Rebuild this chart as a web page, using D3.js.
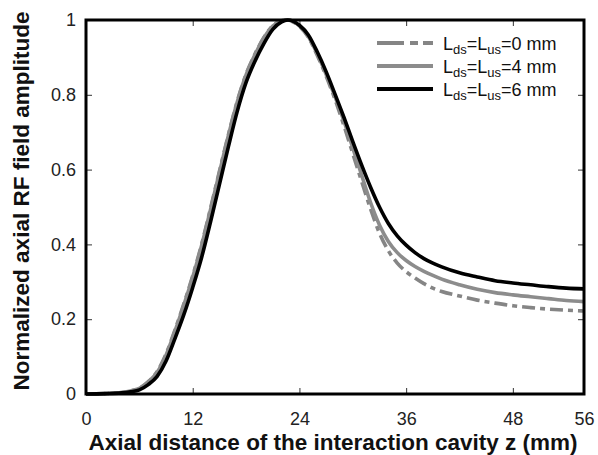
<!DOCTYPE html>
<html><head><meta charset="utf-8">
<script src="https://cdn.jsdelivr.net/npm/d3@7"></script>
<style>body{margin:0;background:#fff}svg{display:block}text{font-family:"Liberation Sans",Arial,sans-serif}</style>
</head><body><svg id="c" width="598" height="455"></svg>
<script>
const z6 = [0,2,4,5,6,7,8,9,10,11,12,13,14,15,16,17,18,19,20,21,22,22.7,24,25,26,27,28,29,30,31,32,33,34,35,36,37,38,39,40,42,44,46,48,50,52,54,56];
const v6 = [0,0.001,0.003,0.006,0.011,0.025,0.047,0.088,0.148,0.212,0.285,0.365,0.46,0.56,0.66,0.755,0.833,0.89,0.937,0.975,0.995,1,0.986,0.96,0.915,0.862,0.802,0.74,0.675,0.612,0.553,0.5,0.456,0.423,0.398,0.378,0.362,0.35,0.34,0.324,0.313,0.303,0.297,0.292,0.287,0.283,0.281];
const z4 = [0,2,4,5,6,7,8,9,10,11,12,13,14,15,16,17,18,19,20,21,22,22.5,24,25,26,27,28,29,30,31,32,33,34,35,36,37,38,39,40,42,44,46,48,50,52,54,56];
const v4 = [0,0.001,0.004,0.008,0.015,0.032,0.058,0.104,0.168,0.238,0.313,0.397,0.493,0.592,0.69,0.78,0.853,0.907,0.952,0.984,0.998,1,0.984,0.956,0.91,0.855,0.795,0.73,0.658,0.585,0.512,0.452,0.408,0.378,0.357,0.341,0.328,0.317,0.307,0.292,0.28,0.271,0.265,0.26,0.255,0.25,0.247];
const z0 = [0,2,4,5,6,7,8,9,10,11,12,13,14,15,16,17,18,19,20,21,22,22.5,24,25,26,27,28,29,30,31,32,33,34,35,36,37,38,39,40,42,44,46,48,50,52,54,56];
const v0 = [0,0.001,0.004,0.008,0.015,0.033,0.06,0.107,0.171,0.241,0.316,0.4,0.496,0.595,0.692,0.782,0.855,0.909,0.953,0.985,0.998,1,0.983,0.954,0.906,0.85,0.788,0.718,0.643,0.568,0.495,0.43,0.383,0.35,0.327,0.31,0.295,0.283,0.274,0.262,0.251,0.243,0.236,0.231,0.227,0.224,0.222];
const xTicks = [0,12,24,36,48,56];
const yTicks = [0,0.2,0.4,0.6,0.8,1];
const seriesNames = ["0","4","6"];

const svg = d3.select("#c");
const m = {l:86, t:20, r:14, b:61};
const W = 598 - m.l - m.r, H = 455 - m.t - m.b;
const x = d3.scaleLinear().domain([0,56]).range([0,W]);
const y = d3.scaleLinear().domain([0,1]).range([H,0]);
const g = svg.append("g").attr("transform",`translate(${m.l},${m.t})`);

const line = d3.line().x(d=>x(d[0])).y(d=>y(d[1])).curve(d3.curveMonotoneX);
const series = [
  {z:z0, v:v0, color:"#858585", dash:"13,5,5,5", w:3.6},
  {z:z4, v:v4, color:"#8c8c8c", dash:null, w:3.6},
  {z:z6, v:v6, color:"#000", dash:null, w:3.6}
];

const fmtY = d=> d===0?"0":d===1?"1":d3.format(".1f")(d);
const ax = g.append("g").attr("transform",`translate(0,${H})`).call(d3.axisBottom(x).tickValues(xTicks).tickSize(-6).tickPadding(18));
const axT = g.append("g").call(d3.axisTop(x).tickValues(xTicks).tickSize(-6).tickFormat(""));
const ay = g.append("g").call(d3.axisLeft(y).tickValues(yTicks).tickSize(-6).tickPadding(10).tickFormat(fmtY));
const ayR = g.append("g").attr("transform",`translate(${W},0)`).call(d3.axisRight(y).tickValues(yTicks).tickSize(-6).tickFormat(""));
[ax,axT,ay,ayR].forEach(a=>{a.select(".domain").remove();a.selectAll("line").attr("stroke","#333").attr("stroke-width",1);a.selectAll("text").attr("font-size",18).attr("fill","#222").attr("font-family","Liberation Sans, Arial, sans-serif");});
ax.selectAll("text").attr("dy","0.71em");

series.forEach(s=>{
  const p = g.append("path").datum(s.z.map((zz,i)=>[zz,s.v[i]]))
    .attr("d",line).attr("fill","none").attr("stroke",s.color).attr("stroke-width",s.w)
    .attr("stroke-linejoin","round");
  if(s.dash) p.attr("stroke-dasharray",s.dash);
});

g.append("rect").attr("x",0).attr("y",0).attr("width",W).attr("height",H)
  .attr("fill","none").attr("stroke","#000").attr("stroke-width",3);

const leg = g.append("g");
series.forEach((s,i)=>{
  const ly = 23 + i*23;
  const l = leg.append("line").attr("x1",291).attr("x2",347).attr("y1",ly).attr("y2",ly)
    .attr("stroke",s.color).attr("stroke-width",s.w+0.4);
  if(s.dash) l.attr("stroke-dasharray","27,6,8,5");
  const t = leg.append("text").attr("x",357).attr("y",ly+7).attr("font-size",18).attr("fill","#111");
  t.append("tspan").text("L");
  t.append("tspan").attr("font-size",13).attr("dy",4).text("ds");
  t.append("tspan").attr("dy",-4).text("=L");
  t.append("tspan").attr("font-size",13).attr("dy",4).text("us");
  t.append("tspan").attr("dy",-4).text("="+seriesNames[i]+" mm");
});

svg.append("text").attr("x",m.l+W/2-2).attr("y",450).attr("text-anchor","middle")
  .attr("font-size",22.5).attr("font-weight","bold").attr("fill","#111")
  .text("Axial distance of the interaction cavity z (mm)");
svg.append("text").attr("transform",`translate(29,${m.t+H/2-6}) rotate(-90)`).attr("text-anchor","middle")
  .attr("font-size",22.5).attr("font-weight","bold").attr("fill","#111")
  .text("Normalized axial RF field amplitude");
</script></body></html>
